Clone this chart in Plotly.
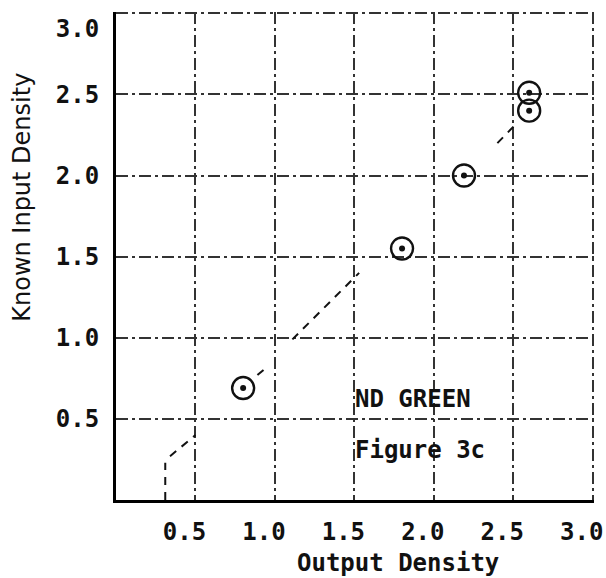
import plotly.graph_objects as go

# Measured points (Output Density, Known Input Density)
out_density = [0.80, 1.80, 2.19, 2.60, 2.60]
known_density = [0.69, 1.55, 2.00, 2.51, 2.40]

# Hand-drawn dashed fit curve (sparse pieces, None = gap)
curve_x = [0.31, 0.31, None, 0.34, 0.50, None, 0.89, 0.95, None, 1.11, 1.53, None, 2.40, 2.53]
curve_y = [0.00, 0.23, None, 0.27, 0.40, None, 0.77, 0.82, None, 0.99, 1.40, None, 2.20, 2.33]

tick_vals = [0.5, 1.0, 1.5, 2.0, 2.5, 3.0]
x_tick_text = ["0.5", "1.0", "1.5", "2.0", "2.5", "3.0"]
# top y label sits just below the frame in the original
y_tick_text = ["0.5", "1.0", "1.5", "2.0", "2.5", "<br>3.0"]

label_lines = ["ND GREEN", "Figure 3c"]
label_y = [0.62, 0.31]
label_x = 1.49

mono = "DejaVu Sans Mono"
ink = "#111111"
grid = "#333333"

fig = go.Figure()
fig.add_trace(go.Scatter(
    x=curve_x, y=curve_y, mode="lines",
    line=dict(color=ink, width=2, dash="8px,7px"),
    connectgaps=False, hoverinfo="skip", showlegend=False,
))
fig.add_trace(go.Scatter(
    x=out_density, y=known_density, mode="markers",
    marker=dict(symbol="circle-open", size=22, color=ink,
                line=dict(color=ink, width=2.4)),
    showlegend=False,
))
fig.add_trace(go.Scatter(
    x=out_density, y=known_density, mode="markers",
    marker=dict(symbol="circle", size=6, color=ink),
    hoverinfo="skip", showlegend=False,
))

for txt, yy in zip(label_lines, label_y):
    fig.add_annotation(x=label_x, y=yy, xref="x", yref="y", text=f"<b>{txt}</b>",
                       showarrow=False, xanchor="left", yanchor="middle",
                       font=dict(family=mono, size=24, color=ink))

fig.add_annotation(x=0.591, y=-0.13, xref="paper", yref="paper",
                   text="<b>Output Density</b>", showarrow=False,
                   xanchor="center", yanchor="middle",
                   font=dict(family=mono, size=24, color=ink))
fig.add_annotation(x=-0.196, y=0.62, xref="paper", yref="paper",
                   text="Known Input Density", showarrow=False, textangle=-90,
                   xanchor="center", yanchor="middle",
                   font=dict(family="DejaVu Sans", size=24, color=ink))

axis_common = dict(
    range=[0, 3.008], tickvals=tick_vals,
    showgrid=True, gridcolor=grid, gridwidth=1.8, griddash="12px,4px,3px,4px",
    zeroline=False, showline=True, linecolor="black", linewidth=3,
    ticks="", tickfont=dict(family=mono, size=24, color=ink, weight="bold"),
    ticklabeloverflow="allow",
    fixedrange=True, automargin=False,
)

fig.update_layout(
    width=606, height=578,
    margin=dict(l=116, r=12, t=12, b=78),
    paper_bgcolor="white", plot_bgcolor="white",
    xaxis=dict(**axis_common, ticktext=x_tick_text, ticklabelshift=-11, ticklabelstandoff=8),
    yaxis=dict(**axis_common, ticktext=y_tick_text, ticklabelstandoff=9),
    showlegend=False,
)

# remove the default page margin so the figure fills the window exactly
fig.write_html("out.html",
               config={"displayModeBar": False},
               post_script="document.body.style.margin='0';document.body.style.overflow='hidden';")
